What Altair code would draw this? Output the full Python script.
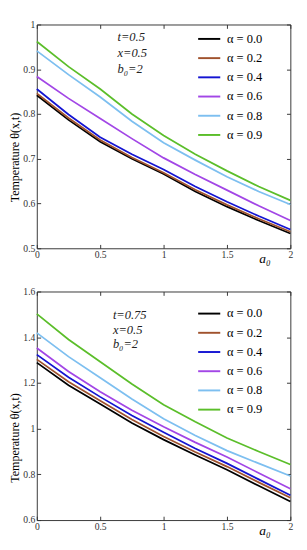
import altair as alt
import pandas as pd

# ---------------- data ----------------
alphas = [0.0, 0.2, 0.4, 0.6, 0.8, 0.9]
series = [f"α = {a:.1f}" for a in alphas]
colors = ["#000000", "#A0522D", "#1414D2", "#A246E6", "#7DBFF0", "#5BBE2A"]

a0_vals = [0.0, 0.25, 0.5, 0.75, 1.0, 1.25, 1.5, 1.75, 2.0]

# t = 0.5
top_a00 = [0.842, 0.787, 0.738, 0.700, 0.666, 0.627, 0.593, 0.562, 0.533]
top_a02 = [0.846, 0.791, 0.742, 0.703, 0.669, 0.631, 0.597, 0.566, 0.537]
top_a04 = [0.856, 0.799, 0.748, 0.710, 0.676, 0.638, 0.604, 0.572, 0.542]
top_a06 = [0.884, 0.835, 0.790, 0.745, 0.702, 0.665, 0.630, 0.595, 0.562]
top_a08 = [0.941, 0.888, 0.838, 0.784, 0.736, 0.697, 0.660, 0.627, 0.598]
top_a09 = [0.962, 0.906, 0.856, 0.800, 0.752, 0.710, 0.673, 0.638, 0.607]

# t = 0.75
bot_a00 = [1.289, 1.190, 1.108, 1.025, 0.952, 0.885, 0.820, 0.750, 0.681]
bot_a02 = [1.303, 1.205, 1.122, 1.040, 0.966, 0.898, 0.834, 0.765, 0.698]
bot_a04 = [1.324, 1.225, 1.139, 1.058, 0.984, 0.913, 0.848, 0.778, 0.709]
bot_a06 = [1.353, 1.250, 1.161, 1.080, 1.008, 0.940, 0.876, 0.806, 0.737]
bot_a08 = [1.419, 1.315, 1.223, 1.130, 1.043, 0.970, 0.904, 0.848, 0.793]
bot_a09 = [1.502, 1.390, 1.293, 1.195, 1.105, 1.030, 0.959, 0.900, 0.843]

top_series = [top_a00, top_a02, top_a04, top_a06, top_a08, top_a09]
bot_series = [bot_a00, bot_a02, bot_a04, bot_a06, bot_a08, bot_a09]

x_ticks = [0, 0.5, 1, 1.5, 2]
top_y_ticks = [0.5, 0.6, 0.7, 0.8, 0.9, 1.0]
bot_y_ticks = [0.6, 0.8, 1.0, 1.2, 1.4, 1.6]

top_note = "t=0.5\nx=0.5\nb₀=2"
bot_note = "t=0.75\nx=0.5\nb₀=2"
top_note_pos = (0.636, 0.985)
bot_note_pos = (0.60, 1.52)


def long_df(vals):
    rows = []
    for name, ys in zip(series, vals):
        for x, y in zip(a0_vals, ys):
            rows.append({"a0": x, "theta": y, "series": name})
    return pd.DataFrame(rows)


SERIF = "Liberation Serif, Times New Roman, serif"
FRAME = "#333333"


def panel(vals, ydom, yticks, note, note_pos, line_h, w, h, ytitle_y, leg_y):
    df = long_df(vals)
    xs = alt.Scale(domain=[0, 2], nice=False)
    ys = alt.Scale(domain=ydom, nice=False, zero=False)
    tick_common = dict(
        tickSize={"expr": "-4"}, tickColor=FRAME, domain=False, grid=False,
        labelFont=SERIF, labelFontSize=10, labelColor="#333333",
    )
    lines = alt.Chart(df).mark_line(strokeWidth=1.8).encode(
        x=alt.X("a0:Q", scale=xs, axis=alt.Axis(
            values=x_ticks, format="~g", labelPadding=6, labelFlush=False,
            title="a₀", titleFont=SERIF, titleFontSize=14, titleFontStyle="italic",
            titleFontWeight="normal", titleX=w - 27, titleY=4, titleBaseline="top",
            titleAlign="center", **tick_common)),
        y=alt.Y("theta:Q", scale=ys, axis=alt.Axis(
            values=yticks, format="~g", labelPadding=6,
            title="Temperature θ(x,t)", titleFont=SERIF, titleFontSize=12.5,
            titleFontWeight="normal", titleColor="#000000",
            titleX=-16, titleY=ytitle_y, titleAngle=-90, titleAlign="center",
            titleBaseline="bottom", **tick_common)),
        color=alt.Color("series:N", scale=alt.Scale(domain=series, range=colors),
                        sort=series,
                        legend=alt.Legend(
                            orient="none", legendX=w - 97, legendY=leg_y,
                            title=None, symbolType="stroke", symbolSize=529,
                            symbolStrokeWidth=2, rowPadding={"expr": "-8"},
                            labelFont=SERIF, labelFontSize=13, labelColor="#000000",
                            labelOffset=6, padding=0)),
    )
    ghost = alt.Chart(df).mark_line(strokeOpacity=0).encode(
        x=alt.X("a0:Q", scale=xs, title=None, axis=alt.Axis(
            orient="top", values=x_ticks, labels=False, **tick_common)),
        y=alt.Y("theta:Q", scale=ys, title=None, axis=alt.Axis(
            orient="right", values=yticks, labels=False, **tick_common)),
    )
    ndf = pd.DataFrame({"x": [note_pos[0]], "y": [note_pos[1]], "t": [note]})
    text = alt.Chart(ndf).mark_text(
        align="left", baseline="top", font=SERIF, fontSize=13, fontStyle="italic",
        lineBreak="\n", lineHeight=line_h, color="#222222",
    ).encode(x=alt.X("x:Q", scale=xs, axis=None),
             y=alt.Y("y:Q", scale=ys, axis=None), text="t:N")
    return alt.layer(lines, ghost, text).resolve_axis(
        x="independent", y="independent").properties(width=w, height=h)


W = 264
top = panel(top_series, [0.5, 1.0], top_y_ticks, top_note, top_note_pos, 17,
            W, 233, 138, 2.5)
bot = panel(bot_series, [0.6, 1.6], bot_y_ticks, bot_note, bot_note_pos, 15,
            W, 238, 152, 10.5)

chart = alt.vconcat(top, bot, spacing=45, bounds="flush").resolve_legend(
    color="independent"
).properties(
    padding={"left": 0, "top": 0, "right": 4, "bottom": 2},
).configure_view(stroke=FRAME, strokeWidth=1)

chart.save("out.html", embed_options={"renderer": "svg", "actions": False})
